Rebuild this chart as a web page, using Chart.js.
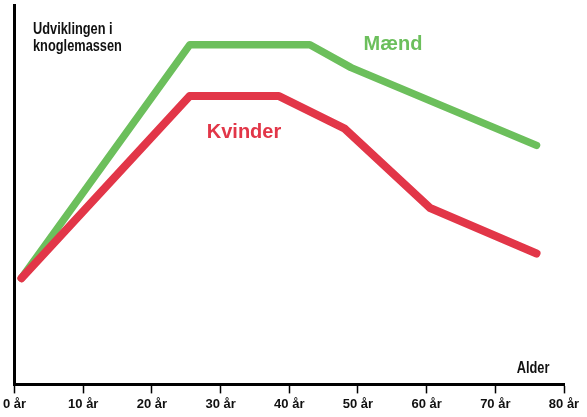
<!DOCTYPE html>
<html>
<head>
<meta charset="utf-8">
<script src="https://cdn.jsdelivr.net/npm/chart.js@4/dist/chart.umd.min.js"></script>
<style>
  html, body { margin: 0; padding: 0; background: #fff; }
  #wrap { width: 587px; height: 417px; position: relative; }
</style>
</head>
<body>
<div id="wrap"><canvas id="myCanvas"></canvas></div>
<script>
// alder (år) og knoglemasse (relativ, aflæst af billedet)
const maendAlder = [1, 25.5, 43, 49, 76];
const maendMasse = [28, 89.5, 89.5, 83.5, 63];
const kvinderAlder = [1, 25.5, 38.5, 48, 60.5, 76];
const kvinderMasse = [28, 76, 76, 67.5, 46.5, 34.5];
const alderTicks = [0, 10, 20, 30, 40, 50, 60, 70, 80];

const sans = "'Liberation Sans', Arial, sans-serif";
const groen = '#6cbf5c';
const roed = '#e23648';

function points(xs, ys) {
    return xs.map((x, i) => ({ x: x, y: ys[i] }));
}

// smal tekst: almindelig fed skrift presset vandret
function narrowText(ctx, text, x, y, size, align) {
    const squeeze = 0.8;
    ctx.save();
    ctx.font = 'bold ' + size + 'px ' + sans;
    ctx.textAlign = align;
    ctx.translate(x, y);
    ctx.scale(squeeze, 1);
    ctx.fillText(text, 0, 0);
    ctx.restore();
}

// tekster i diagrammet
const labelPlugin = {
    id: 'labels',
    afterDraw(chart) {
        const ctx = chart.ctx;
        ctx.save();
        ctx.textBaseline = 'middle';
        ctx.fillStyle = '#111';
        narrowText(ctx, 'Udviklingen i', 33, 30, 16, 'left');
        narrowText(ctx, 'knoglemassen', 33, 47, 16, 'left');
        narrowText(ctx, 'Alder', 533, 369, 16, 'center');
        ctx.textAlign = 'center';
        ctx.font = 'bold 20px ' + sans;
        ctx.fillStyle = groen;
        ctx.fillText('Mænd', 393, 44);
        ctx.fillStyle = roed;
        ctx.fillText('Kvinder', 244, 132);
        ctx.restore();
    }
};

const ctx = document.getElementById('myCanvas').getContext('2d');

new Chart(ctx, {
    type: 'line',
    data: {
        datasets: [
            {
                label: 'Kvinder',
                data: points(kvinderAlder, kvinderMasse),
                borderColor: roed,
                borderWidth: 8,
                borderCapStyle: 'round',
                borderJoinStyle: 'round',
                pointRadius: 0,
                tension: 0,
            },
            {
                label: 'Mænd',
                data: points(maendAlder, maendMasse),
                borderColor: groen,
                borderWidth: 7.5,
                borderCapStyle: 'round',
                borderJoinStyle: 'round',
                pointRadius: 0,
                tension: 0,
            },
        ],
    },
    options: {
        responsive: true,
        maintainAspectRatio: false,
        animation: false,
        layout: { padding: { top: 5, right: 23, bottom: 2, left: 0 } },
        plugins: {
            legend: { display: false },
            tooltip: { enabled: false },
        },
        scales: {
            x: {
                type: 'linear',
                min: 0,
                max: 80,
                afterBuildTicks: (scale) => {
                    scale.ticks = alderTicks.map(v => ({ value: v }));
                },
                ticks: {
                    color: '#111',
                    font: { family: sans, size: 13, weight: 'bold' },
                    padding: 3,
                    maxRotation: 0,
                    autoSkip: false,
                    callback: (v) => v + ' år',
                },
                grid: {
                    drawOnChartArea: false,
                    drawTicks: true,
                    tickLength: 9,
                    tickColor: '#000',
                    tickWidth: 1.5,
                },
                border: { display: true, color: '#000', width: 3 },
            },
            y: {
                min: 0,
                max: 100,
                ticks: { display: false },
                grid: { display: false },
                border: { display: true, color: '#000', width: 3 },
                afterFit: (scale) => { scale.width = 14; },
            },
        },
    },
    plugins: [labelPlugin],
});
</script>
</body>
</html>
